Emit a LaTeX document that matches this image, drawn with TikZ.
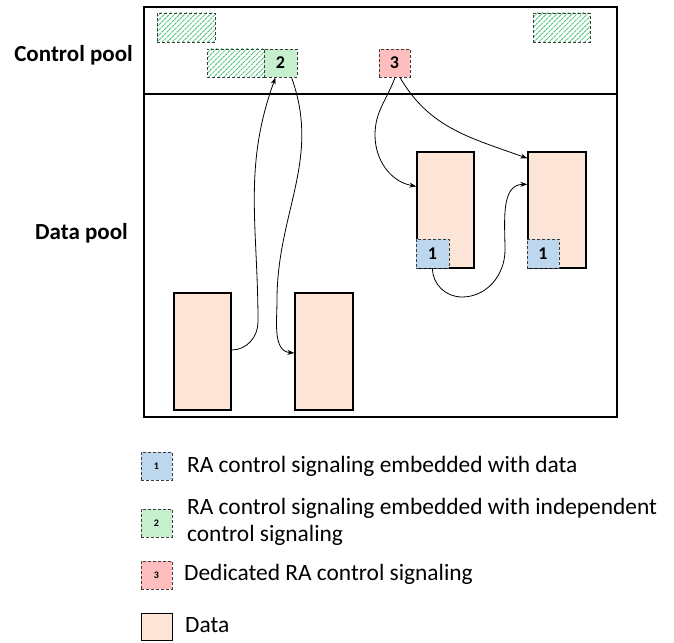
\documentclass[tikz,border=0pt]{standalone}
\usepackage{fontspec}
\setmainfont{Carlito}
\usetikzlibrary{arrows.meta,patterns.meta,positioning}
\definecolor{gfill}{RGB}{198,239,206}
\definecolor{rfill}{RGB}{255,190,190}
\definecolor{bfill}{RGB}{189,215,238}
\definecolor{dfill}{RGB}{252,229,214}
\definecolor{hgreen}{RGB}{70,195,115}
\definecolor{dashgray}{RGB}{60,60,60}
\tikzset{
  sig/.style={draw=dashgray, line width=0.9pt, dash pattern=on 3pt off 2pt, inner sep=0pt,
    font=\fontsize{18}{18}\selectfont\bfseries},
  hatch/.style={sig, pattern={Lines[angle=45,distance=3.6pt,line width=0.8pt]}, pattern color=hgreen},
  datab/.style={draw=black, line width=1.3pt, fill=dfill, inner sep=0pt},
  lsig/.style={sig, minimum width=31pt, minimum height=28pt, font=\fontsize{10}{10}\selectfont\bfseries},
  ltext/.style={anchor=west, inner sep=0pt, font=\fontsize{23.4}{27}\selectfont, align=left},
  pool/.style={anchor=east, inner sep=0pt, font=\fontsize{23}{27}\selectfont\bfseries},
  arr/.style={-{Stealth[length=7pt,width=5pt]}, line width=0.8pt},
}
\begin{document}
\begin{tikzpicture}[x=1pt,y=-1pt]
\useasboundingbox (0,0) rectangle (674,642);
% frame
\draw[line width=1.6pt] (144,7) rectangle (617,417);
\draw[line width=1.4pt] (144,94) -- (617,94);
% labels
\node[pool] (cp) at (133,55) {Control pool};
\node[pool] (dp) at (128,233) {Data pool};
% control pool elements
\node[hatch, minimum width=58pt, minimum height=29pt] (h1) at (186,27.5) {};
\node[hatch, minimum width=57pt, minimum height=28pt] (h2) at (235.5,63) {};
\node[hatch, minimum width=57pt, minimum height=29pt] (h3) at (561.5,27.5) {};
\node[sig, fill=gfill, minimum width=33pt, minimum height=28pt] (b2) at (280.5,63) {2};
\node[sig, fill=rfill, minimum width=31pt, minimum height=28pt] (b3) at (394.5,63) {3};
% data pool elements
\node[datab, minimum width=57pt, minimum height=116pt] (da) at (445.5,210) {};
\node[sig, fill=bfill, minimum width=33pt, minimum height=29pt] (sa) at (432.5,253.5) {1};
\node[datab, minimum width=58pt, minimum height=116pt] (db) at (557,210) {};
\node[sig, fill=bfill, minimum width=32pt, minimum height=29pt] (sb) at (543,253.5) {1};
\node[datab, minimum width=57pt, minimum height=117pt] (dc) at (202.5,351.5) {};
\node[datab, minimum width=58pt, minimum height=117pt] (dd) at (324,351.5) {};
% connectors
\draw[arr] ([yshift=1.5pt]dc.east) to[out=0,in=-90] (258,322) to[out=90,in=-110] ([xshift=-5pt]b2.south);
\draw[arr] ([xshift=11pt]b2.south) to[out=-70,in=90] (277,300) to[out=-90,in=175] ([yshift=-1.5pt]dd.west);
\draw[arr] ([xshift=0.5pt]b3.south) to[out=-110,in=90] (375,135) to[out=-90,in=170] ([yshift=-35pt]da.north west);
\draw[arr] ([xshift=5.5pt]b3.south) to[out=-60,in=160] ([yshift=-7pt]db.north west);
\draw[arr] (sa.south) to[out=-90,in=180] (462,297) to[out=0,in=-90] (505,250) to[out=90,in=180] ([yshift=-33pt]db.north west);
% legend
\node[lsig, fill=bfill] (l1) at (156.5,466) {1};
\node[ltext] (t1) at (187,466) {RA control signaling embedded with data};
\node[lsig, fill=gfill] (l2) at (156.5,523) {2};
\node[ltext] (t2) at (187,521.5) {RA control signaling embedded with independent\\control signaling};
\node[lsig, fill=rfill] (l3) at (156.5,575) {3};
\node[ltext] (t3) at (184,574) {Dedicated RA control signaling};
\node[datab, line width=1pt, minimum width=31pt, minimum height=27pt] (l4) at (156.5,626.5) {};
\node[ltext] (t4) at (185,625) {Data};
\end{tikzpicture}
\end{document}
